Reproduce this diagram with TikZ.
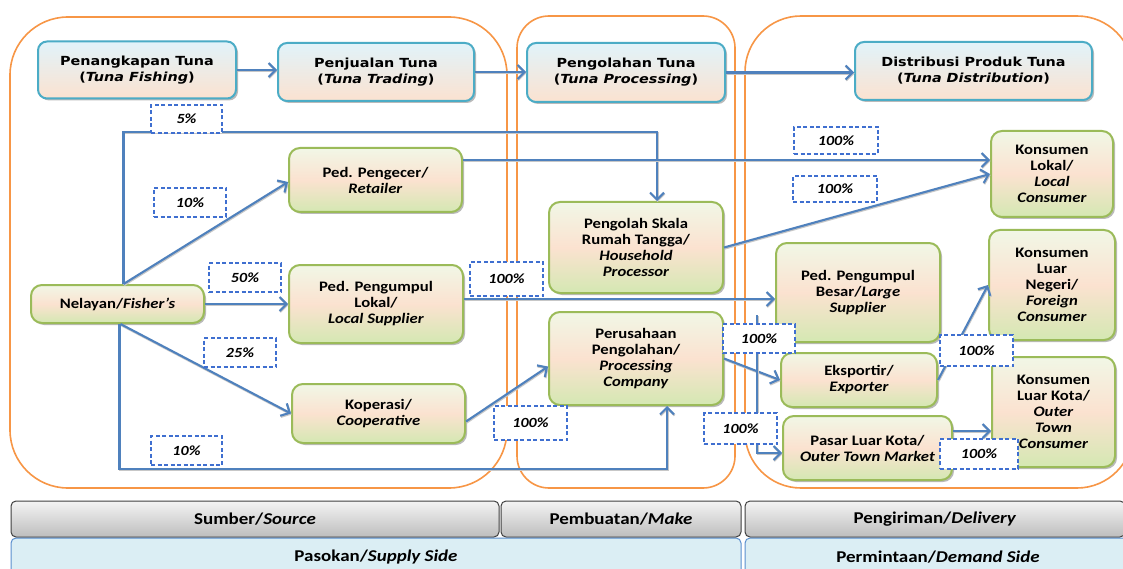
\documentclass[tikz,border=0pt]{standalone}
\usepackage{fontspec}
\setmainfont{Carlito}[FakeStretch=1.15]
\newfontfamily\stagefont{DejaVu Sans}[FakeStretch=1.15,ItalicFont=DejaVu Sans Oblique,BoldFont=DejaVu Sans Bold,BoldItalicFont=DejaVu Sans Bold Oblique]
\usetikzlibrary{arrows.meta,shadows}
\definecolor{orangeline}{HTML}{F79646}
\definecolor{aqualine}{HTML}{4BACC6}
\definecolor{greenline}{HTML}{9BBB59}
\definecolor{flowblue}{HTML}{4F81BD}
\definecolor{pctblue}{HTML}{3F6FD0}
\definecolor{palegreen}{HTML}{F1F7E6}
\definecolor{peach}{HTML}{FBE2D0}
\definecolor{leafgreen}{HTML}{D4E8B2}
\definecolor{iceblue}{HTML}{E1F3FA}
\definecolor{sideblue}{HTML}{DBEEF4}
\definecolor{sideline}{HTML}{5B8FCF}
\definecolor{greytop}{HTML}{F4F4F4}
\definecolor{greybot}{HTML}{BDBDBD}
\begin{document}
\begin{tikzpicture}[x=1pt,y=-1pt,
  phase/.style={draw=orangeline,line width=1.6pt},
  stage/.style={draw=aqualine,line width=2pt,rounded corners=9pt,top color=iceblue,bottom color=peach,
    drop shadow={shadow xshift=2pt,shadow yshift=-2pt,fill=black!45,opacity=.6},
    font=\stagefont\bfseries\fontsize{12.5}{16}\selectfont,align=center,inner sep=0pt},
  actor/.style={draw=greenline,line width=2pt,rounded corners=11pt,top color=palegreen,bottom color=leafgreen,middle color=peach,
    drop shadow={shadow xshift=2pt,shadow yshift=-2pt,fill=black!45,opacity=.6},
    font=\bfseries\fontsize{14.5}{16}\selectfont,align=center,inner sep=0pt},
  pct/.style={draw=pctblue,dash pattern=on 4pt off 2.5pt,line width=1.3pt,fill=white,
    font=\bfseries\itshape\fontsize{14}{16}\selectfont,inner sep=0pt},
  flow/.style={draw=flowblue,line width=2.1pt,-{Straight Barb[length=7pt,width=14pt]},
    preaction={draw=black!22,line width=2.1pt,transform canvas={shift={(0.6pt,-1.1pt)}}}},
  stepbar/.style={draw=black!75,line width=1pt,rounded corners=5pt,top color=greytop,bottom color=greybot,
    font=\bfseries\fontsize{16.5}{18}\selectfont,inner sep=0pt},
  sidebar/.style={draw=sideline,line width=1pt,rounded corners=5pt,fill=sideblue,
    font=\bfseries\fontsize{16.5}{18}\selectfont,inner sep=0pt}]
  \useasboundingbox (0,0) rectangle (1123,569);
  \fill[white] (0,0) rectangle (1123,569);
  \clip (0,0) rectangle (1123,569);

  %phases
  \draw[phase,rounded corners=58pt] (10,17) rectangle (507,488);
  \draw[phase,rounded corners=32pt] (517,16) rectangle (735,488);
  \draw[phase,rounded corners=56pt] (745,16) rectangle (1133,488);

  %stages
  \node[stage,minimum width=198pt,minimum height=57pt] (fishing) at (137,70) {Penangkapan Tuna\\(\textit{Tuna Fishing})};
  \node[stage,minimum width=196pt,minimum height=58pt] (trading) at (376,72) {Penjualan Tuna\\(\textit{Tuna Trading})};
  \node[stage,minimum width=198pt,minimum height=59pt] (processing) at (626,72.5) {Pengolahan Tuna\\(\textit{Tuna Processing})};
  \node[stage,minimum width=237pt,minimum height=58pt] (distribution) at (973.5,71) {Distribusi Produk Tuna\\(\textit{Tuna Distribution})};

  %actors
  \node[actor,minimum width=173pt,minimum height=38pt] (fisher) at (117.5,304) {Nelayan/\textit{Fisher’s}};
  \node[actor,minimum width=173pt,minimum height=64pt] (retailer) at (375.5,180) {Ped. Pengecer/\\\textit{Retailer}};
  \node[actor,minimum width=174pt,minimum height=78pt] (localsup) at (376,304) {Ped. Pengumpul\\Lokal/\\\textit{Local Supplier}};
  \node[actor,minimum width=173pt,minimum height=59pt] (coop) at (378.5,413.5) {Koperasi/\\\textit{Cooperative}};
  \node[actor,minimum width=174pt,minimum height=91pt] (household) at (636,247.5) {Pengolah Skala\\Rumah Tangga/\\\textit{Household}\\\textit{Processor}};
  \node[actor,minimum width=174pt,minimum height=93pt] (company) at (636,358.5) {Perusahaan\\Pengolahan/\\\textit{Processing}\\\textit{Company}};
  \node[actor,minimum width=164pt,minimum height=99pt] (largesup) at (858,292.5) {Ped. Pengumpul\\Besar/\textit{Large}\\\textit{Supplier}};
  \node[actor,minimum width=156pt,minimum height=54pt] (exporter) at (859,380) {Eksportir/\\\textit{Exporter}};
  \node[actor,minimum width=169pt,minimum height=64pt] (market) at (867.5,448) {Pasar Luar Kota/\\\textit{Outer Town Market}};
  \node[actor,minimum width=122pt,minimum height=86pt] (lokal) at (1052,174) {Konsumen\\Lokal/\\\textit{Local}\\\textit{Consumer}};
  \node[actor,minimum width=126pt,minimum height=110pt] (foreign) at (1052,285) {Konsumen\\Luar\\Negeri/\\\textit{Foreign}\\\textit{Consumer}};
  \node[actor,minimum width=123pt,minimum height=110pt] (outer) at (1053.5,412) {Konsumen\\Luar Kota/\\\textit{Outer}\\\textit{Town}\\\textit{Consumer}};

  %stage arrows
  \draw[flow] (fishing.east) -- (fishing.east -| trading.west);
  \draw[flow] (trading.east) -- (trading.east -| processing.west);
  \draw[flow] (processing.east) -- (processing.east -| distribution.west);

  %fisher shares
  \draw[flow] ([xshift=6pt]fisher.north) -- ++(0,-152) -| ([xshift=21pt]household.north);
  \draw[flow] ([xshift=6pt]fisher.north) -- ([yshift=-2pt]retailer.west);
  \draw[flow] (fisher.east) -- (localsup.west);
  \draw[flow] ([xshift=3pt]fisher.south) -- (coop.west);
  \draw[flow] ([xshift=2pt]fisher.south) -- ++(0,145) -| ([xshift=31pt]company.south);

  %traders and processors
  \draw[flow] ([yshift=20pt]retailer.east) -- ([yshift=20pt]retailer.east -| lokal.west);
  \draw[flow] (household.east) -- (lokal.west);
  \draw[flow] ([yshift=5pt]localsup.east) -- ([yshift=5pt]localsup.east -| largesup.west);
  \draw[flow] ([yshift=-8pt]coop.east) -- ([yshift=-8pt]company.west);
  \draw[flow] (company.east) -- (exporter.west);
  \coordinate (branch) at (757,315);
  \draw[flow] (branch) |- ([yshift=-5pt]market.west);
  \draw[flow] (exporter.east) -- (foreign.west);
  \draw[flow] ([yshift=17pt]market.east) -- ([yshift=17pt]market.east -| outer.west);

  %shares
  \node[pct,minimum width=71pt,minimum height=28pt] (p5) at (186.5,119) {5\%\hspace{14pt}};
  \node[pct,minimum width=72pt,minimum height=29pt] (p10a) at (190,202.5) {10\%};
  \node[pct,minimum width=72pt,minimum height=29pt] (p50) at (245,277.5) {50\%};
  \node[pct,minimum width=72pt,minimum height=29pt] (p25) at (240,352.5) {25\%};
  \node[pct,minimum width=71pt,minimum height=29pt] (p10b) at (186.5,450.5) {10\%};
  \node[pct,minimum width=73pt,minimum height=34pt] (p100a) at (506.5,279) {100\%};
  \node[pct,minimum width=73pt,minimum height=34pt] (p100b) at (530.5,423) {100\%};
  \node[pct,minimum width=84pt,minimum height=27pt] (p100c) at (836,140.5) {100\%};
  \node[pct,minimum width=84pt,minimum height=26pt] (p100d) at (835,189) {100\%};
  \node[pct,minimum width=72pt,minimum height=29pt] (p100e) at (759,338.5) {100\%};
  \node[pct,minimum width=73pt,minimum height=31pt] (p100f) at (740.5,428.5) {100\%};
  \node[pct,minimum width=73pt,minimum height=31pt] (p100g) at (976.5,350.5) {100\%};
  \node[pct,minimum width=78pt,minimum height=30pt] (p100h) at (979,454) {100\%};

  %scor bars
  \node[stepbar,minimum width=488pt,minimum height=36pt] (source) at (255,519) {Sumber/\textit{Source}};
  \node[stepbar,minimum width=240pt,minimum height=36pt] (make) at (621,519) {Pembuatan/\textit{Make}};
  \node[stepbar,minimum width=380pt,minimum height=36pt] (delivery) at (935,519) {Pengiriman/\textit{Delivery}};
  \node[sidebar,minimum width=730pt,minimum height=38pt] (supply) at (376,557) {Pasokan/\textit{Supply Side}};
  \node[sidebar,minimum width=386pt,minimum height=38pt] (demand) at (938,557) {Permintaan/\textit{Demand Side}};
\end{tikzpicture}
\end{document}
